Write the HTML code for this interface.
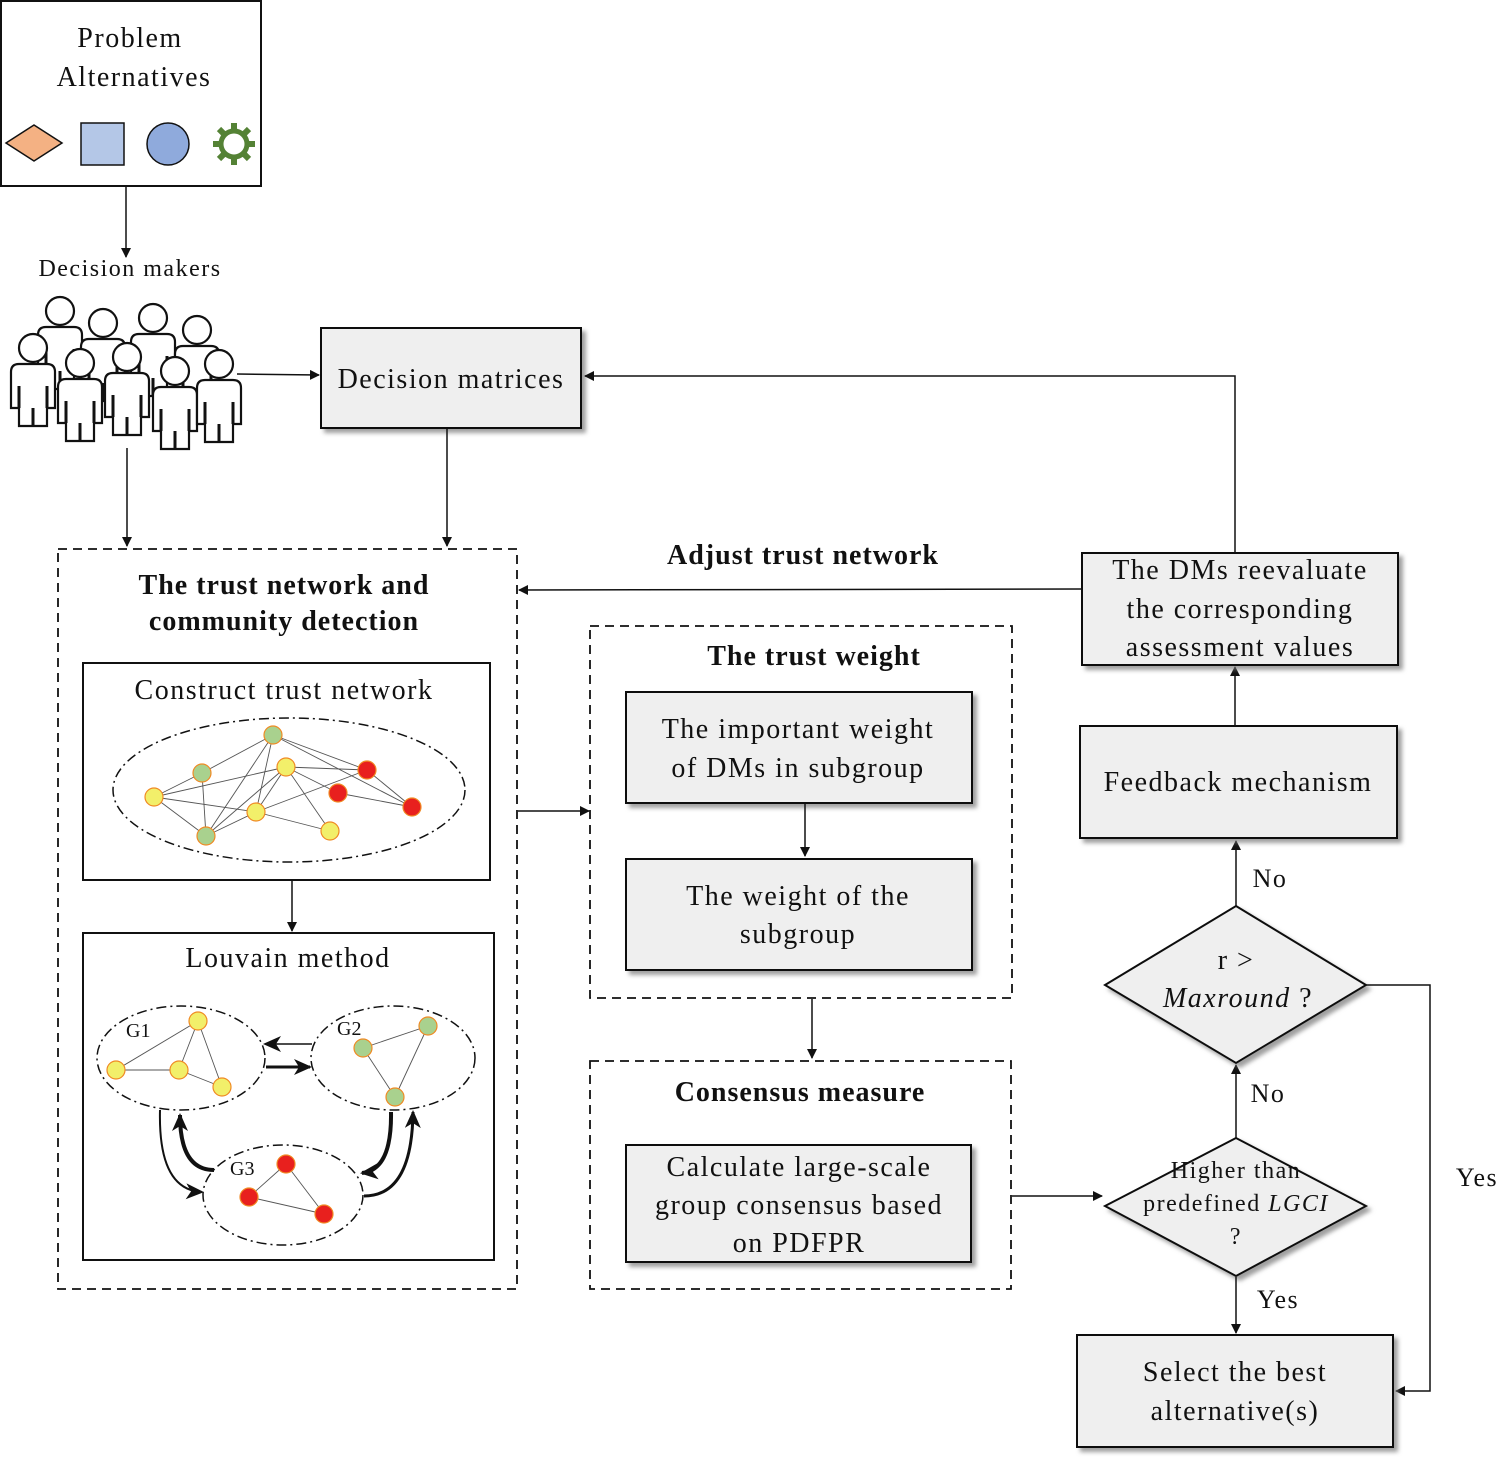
<!DOCTYPE html>
<html><head><meta charset="utf-8"><style>
html,body{margin:0;padding:0;background:#fff}
svg{display:block}
text{font-family:"Liberation Serif",serif;fill:#111;letter-spacing:1.5px}
text[font-weight="bold"]{letter-spacing:1px}
</style></head><body>
<svg width="1500" height="1464" viewBox="0 0 1500 1464" xmlns="http://www.w3.org/2000/svg">
<defs>
<marker id="a" markerWidth="10" markerHeight="10" refX="9" refY="5" orient="auto" markerUnits="userSpaceOnUse"><path d="M0,0 L10,5 L0,10 z" fill="#111"/></marker>
<marker id="b" markerWidth="18" markerHeight="16" refX="16" refY="8" orient="auto" markerUnits="userSpaceOnUse"><path d="M0,0 L18,8 L0,16 L5,8 z" fill="#111"/></marker>
<filter id="sh" x="-5%" y="-5%" width="115%" height="120%"><feDropShadow dx="4" dy="4" stdDeviation="2" flood-color="#777" flood-opacity="0.7"/></filter>
<symbol id="p" viewBox="-30 -16 60 100" width="60" height="112">
<path d="M-22,26 Q-22,18 -14,18 L14,18 Q22,18 22,26 L22,62 L14,62 L14,80 L-14,80 L-14,62 L-22,62 Z" fill="#fff" stroke="#111" stroke-width="2.2"/>
<line x1="-14" y1="40" x2="-14" y2="62" stroke="#111" stroke-width="3"/>
<line x1="14" y1="40" x2="14" y2="62" stroke="#111" stroke-width="3"/>
<line x1="0" y1="62" x2="0" y2="80" stroke="#111" stroke-width="3"/>
<circle cx="0" cy="2" r="14" fill="#fff" stroke="#111" stroke-width="2.2"/>
</symbol>
</defs>

<rect x="1" y="1" width="260" height="185" fill="#fff" stroke="#111" stroke-width="2"/>
<text x="130" y="47" font-size="28" text-anchor="middle">Problem</text>
<text x="134" y="86" font-size="28" text-anchor="middle">Alternatives</text>
<polygon points="6,143 34,125 62,143 34,161" fill="#f4b183" stroke="#111" stroke-width="1.5"/>
<rect x="81" y="123" width="43" height="42" fill="#b4c7e7" stroke="#111" stroke-width="1.5"/>
<circle cx="168" cy="144" r="21" fill="#8faadc" stroke="#111" stroke-width="1.5"/>
<g transform="translate(234,144)" fill="none" stroke="#548235" stroke-width="5">
<circle r="13"/>
<g stroke-width="6"><line x1="0" y1="-14" x2="0" y2="-21"/><line x1="0" y1="14" x2="0" y2="21"/><line x1="-14" y1="0" x2="-21" y2="0"/><line x1="14" y1="0" x2="21" y2="0"/><line x1="10" y1="10" x2="15" y2="15"/><line x1="-10" y1="10" x2="-15" y2="15"/><line x1="10" y1="-10" x2="15" y2="-15"/><line x1="-10" y1="-10" x2="-15" y2="-15"/></g>
</g>
<line x1="126" y1="187" x2="126" y2="257" stroke="#111" stroke-width="1.5" marker-end="url(#a)"/>
<text x="130" y="276" font-size="24" text-anchor="middle">Decision makers</text>

<use href="#p" x="30" y="287"/>
<use href="#p" x="73" y="299"/>
<use href="#p" x="123" y="294"/>
<use href="#p" x="167" y="306"/>
<use href="#p" x="3" y="324"/>
<use href="#p" x="50" y="339"/>
<use href="#p" x="97" y="333"/>
<use href="#p" x="145" y="347"/>
<use href="#p" x="189" y="340"/>
<line x1="237" y1="374" x2="319" y2="375" stroke="#111" stroke-width="1.5" marker-end="url(#a)"/>
<line x1="127" y1="448" x2="127" y2="546" stroke="#111" stroke-width="1.5" marker-end="url(#a)"/>

<rect x="321" y="328" width="260" height="100" fill="#efefef" stroke="#111" stroke-width="2" filter="url(#sh)"/>
<text x="451" y="388" font-size="28" text-anchor="middle">Decision matrices</text>
<line x1="447" y1="429" x2="447" y2="546" stroke="#111" stroke-width="1.5" marker-end="url(#a)"/>

<rect x="58" y="549" width="459" height="740" fill="none" stroke="#111" stroke-width="1.8" stroke-dasharray="9,6"/>
<text x="284" y="594" font-size="28" font-weight="bold" text-anchor="middle">The trust network and</text>
<text x="284" y="630" font-size="28" font-weight="bold" text-anchor="middle">community detection</text>
<rect x="83" y="663" width="407" height="217" fill="#fff" stroke="#111" stroke-width="2"/>
<text x="284" y="699" font-size="28" text-anchor="middle">Construct trust network</text>
<ellipse cx="289" cy="790" rx="176" ry="72" fill="none" stroke="#111" stroke-width="1.5" stroke-dasharray="10,4,2,4"/>
<g stroke="#555" stroke-width="0.9">
<line x1="273" y1="735" x2="202" y2="773"/><line x1="273" y1="735" x2="206" y2="836"/><line x1="273" y1="735" x2="256" y2="812"/><line x1="273" y1="735" x2="367" y2="770"/><line x1="273" y1="735" x2="412" y2="807"/>
<line x1="202" y1="773" x2="154" y2="797"/><line x1="202" y1="773" x2="206" y2="836"/>
<line x1="286" y1="767" x2="154" y2="797"/><line x1="286" y1="767" x2="367" y2="770"/><line x1="286" y1="767" x2="338" y2="793"/><line x1="286" y1="767" x2="330" y2="831"/><line x1="286" y1="767" x2="206" y2="836"/><line x1="286" y1="767" x2="256" y2="812"/>
<line x1="154" y1="797" x2="256" y2="812"/><line x1="154" y1="797" x2="206" y2="836"/>
<line x1="256" y1="812" x2="206" y2="836"/><line x1="256" y1="812" x2="330" y2="831"/><line x1="256" y1="812" x2="367" y2="770"/>
<line x1="367" y1="770" x2="412" y2="807"/><line x1="338" y1="793" x2="412" y2="807"/>
</g>
<g stroke="#f08a24" stroke-width="1.2">
<circle cx="273" cy="735" r="9" fill="#a9d18e"/><circle cx="202" cy="773" r="9" fill="#a9d18e"/><circle cx="206" cy="836" r="9" fill="#a9d18e"/>
<circle cx="286" cy="767" r="9" fill="#f2ef6a"/><circle cx="154" cy="797" r="9" fill="#f2ef6a"/><circle cx="256" cy="812" r="9" fill="#f2ef6a"/><circle cx="330" cy="831" r="9" fill="#f2ef6a"/>
<circle cx="367" cy="770" r="9" fill="#e8201e"/><circle cx="338" cy="793" r="9" fill="#e8201e"/><circle cx="412" cy="807" r="9" fill="#e8201e"/>
</g>
<line x1="292" y1="881" x2="292" y2="931" stroke="#111" stroke-width="1.5" marker-end="url(#a)"/>

<rect x="83" y="933" width="411" height="327" fill="#fff" stroke="#111" stroke-width="2"/>
<text x="288" y="967" font-size="28" text-anchor="middle">Louvain method</text>
<g fill="none" stroke="#111" stroke-width="1.5" stroke-dasharray="10,4,2,4">
<ellipse cx="181" cy="1058" rx="84" ry="52"/><ellipse cx="393" cy="1058" rx="82" ry="52"/><ellipse cx="283" cy="1195" rx="80" ry="50"/>
</g>
<text x="126" y="1037" font-size="20" style="letter-spacing:0">G1</text><text x="337" y="1035" font-size="20" style="letter-spacing:0">G2</text><text x="230" y="1175" font-size="20" style="letter-spacing:0">G3</text>
<g stroke="#555" stroke-width="0.9">
<line x1="198" y1="1021" x2="116" y2="1070"/><line x1="198" y1="1021" x2="179" y2="1070"/><line x1="198" y1="1021" x2="222" y2="1087"/><line x1="116" y1="1070" x2="179" y2="1070"/><line x1="179" y1="1070" x2="222" y2="1087"/>
<line x1="428" y1="1026" x2="363" y2="1048"/><line x1="428" y1="1026" x2="395" y2="1097"/><line x1="363" y1="1048" x2="395" y2="1097"/>
<line x1="286" y1="1164" x2="249" y2="1197"/><line x1="286" y1="1164" x2="324" y2="1214"/><line x1="249" y1="1197" x2="324" y2="1214"/>
</g>
<g stroke="#f08a24" stroke-width="1.2">
<circle cx="198" cy="1021" r="9" fill="#f2ef6a"/><circle cx="116" cy="1070" r="9" fill="#f2ef6a"/><circle cx="179" cy="1070" r="9" fill="#f2ef6a"/><circle cx="222" cy="1087" r="9" fill="#f2ef6a"/>
<circle cx="428" cy="1026" r="9" fill="#a9d18e"/><circle cx="363" cy="1048" r="9" fill="#a9d18e"/><circle cx="395" cy="1097" r="9" fill="#a9d18e"/>
<circle cx="286" cy="1164" r="9" fill="#e8201e"/><circle cx="249" cy="1197" r="9" fill="#e8201e"/><circle cx="324" cy="1214" r="9" fill="#e8201e"/>
</g>
<g fill="none" stroke="#111">
<line x1="312" y1="1044" x2="265" y2="1044" stroke-width="1.5" marker-end="url(#b)"/>
<line x1="266" y1="1067" x2="310" y2="1067" stroke-width="3" marker-end="url(#b)"/>
<path d="M160,1110 Q158,1190 202,1192" stroke-width="2" marker-end="url(#b)"/>
<path d="M214,1170 Q180,1170 180,1115" stroke-width="4" marker-end="url(#b)"/>
<path d="M391,1112 Q392,1170 362,1173" stroke-width="4" marker-end="url(#b)"/>
<path d="M364,1196 Q412,1196 413,1112" stroke-width="3" marker-end="url(#b)"/>
</g>

<line x1="518" y1="811" x2="589" y2="811" stroke="#111" stroke-width="1.5" marker-end="url(#a)"/>

<rect x="590" y="626" width="422" height="372" fill="none" stroke="#111" stroke-width="1.8" stroke-dasharray="9,6"/>
<text x="814" y="665" font-size="28" font-weight="bold" text-anchor="middle">The trust weight</text>
<rect x="626" y="692" width="346" height="111" fill="#efefef" stroke="#111" stroke-width="2" filter="url(#sh)"/>
<text x="798" y="738" font-size="28" text-anchor="middle">The important weight</text>
<text x="798" y="777" font-size="28" text-anchor="middle">of DMs in subgroup</text>
<line x1="805" y1="804" x2="805" y2="856" stroke="#111" stroke-width="1.5" marker-end="url(#a)"/>
<rect x="626" y="859" width="346" height="111" fill="#efefef" stroke="#111" stroke-width="2" filter="url(#sh)"/>
<text x="798" y="905" font-size="28" text-anchor="middle">The weight of the</text>
<text x="798" y="943" font-size="28" text-anchor="middle">subgroup</text>
<line x1="812" y1="999" x2="812" y2="1058" stroke="#111" stroke-width="1.5" marker-end="url(#a)"/>

<rect x="590" y="1061" width="421" height="228" fill="none" stroke="#111" stroke-width="1.8" stroke-dasharray="9,6"/>
<text x="800" y="1101" font-size="28" font-weight="bold" text-anchor="middle">Consensus measure</text>
<rect x="626" y="1145" width="345" height="117" fill="#efefef" stroke="#111" stroke-width="2" filter="url(#sh)"/>
<text x="799" y="1176" font-size="28" text-anchor="middle">Calculate large-scale</text>
<text x="799" y="1214" font-size="28" text-anchor="middle">group consensus based</text>
<text x="799" y="1252" font-size="28" text-anchor="middle">on PDFPR</text>
<line x1="1012" y1="1196" x2="1102" y2="1196" stroke="#111" stroke-width="1.5" marker-end="url(#a)"/>

<polygon points="1236,1138 1366,1206 1236,1276 1105,1206" fill="#efefef" stroke="#111" stroke-width="2" filter="url(#sh)"/>
<text x="1236" y="1178" font-size="24" text-anchor="middle">Higher than</text>
<text x="1236" y="1211" font-size="24" text-anchor="middle">predefined <tspan font-style="italic">LGCI</tspan></text>
<text x="1236" y="1244" font-size="24" text-anchor="middle">?</text>
<line x1="1236" y1="1138" x2="1236" y2="1065" stroke="#111" stroke-width="1.5" marker-end="url(#a)"/>
<text x="1268" y="1102" font-size="26" text-anchor="middle">No</text>
<polygon points="1236,906 1366,985 1236,1063 1105,985" fill="#efefef" stroke="#111" stroke-width="2" filter="url(#sh)"/>
<text x="1236" y="969" font-size="28" text-anchor="middle">r &gt;</text>
<text x="1238" y="1007" font-size="28" text-anchor="middle"><tspan font-style="italic">Maxround</tspan> ?</text>
<line x1="1236" y1="906" x2="1236" y2="841" stroke="#111" stroke-width="1.5" marker-end="url(#a)"/>
<text x="1270" y="887" font-size="26" text-anchor="middle">No</text>
<rect x="1080" y="726" width="317" height="112" fill="#efefef" stroke="#111" stroke-width="2" filter="url(#sh)"/>
<text x="1238" y="791" font-size="28" text-anchor="middle">Feedback mechanism</text>
<line x1="1235" y1="726" x2="1235" y2="667" stroke="#111" stroke-width="1.5" marker-end="url(#a)"/>
<rect x="1082" y="553" width="316" height="112" fill="#efefef" stroke="#111" stroke-width="2" filter="url(#sh)"/>
<text x="1240" y="579" font-size="28" text-anchor="middle">The DMs reevaluate</text>
<text x="1240" y="618" font-size="28" text-anchor="middle">the corresponding</text>
<text x="1240" y="656" font-size="28" text-anchor="middle">assessment values</text>
<polyline points="1235,553 1235,376 585,376" fill="none" stroke="#111" stroke-width="1.5" marker-end="url(#a)"/>
<line x1="1082" y1="589" x2="519" y2="590" stroke="#111" stroke-width="1.5" marker-end="url(#a)"/>
<text x="803" y="564" font-size="28" font-weight="bold" text-anchor="middle">Adjust trust network</text>
<polyline points="1366,985 1430,985 1430,1391 1396,1391" fill="none" stroke="#111" stroke-width="1.5" marker-end="url(#a)"/>
<text x="1477" y="1186" font-size="26" text-anchor="middle">Yes</text>
<line x1="1236" y1="1277" x2="1236" y2="1333" stroke="#111" stroke-width="1.5" marker-end="url(#a)"/>
<text x="1278" y="1308" font-size="26" text-anchor="middle">Yes</text>
<rect x="1077" y="1335" width="316" height="112" fill="#efefef" stroke="#111" stroke-width="2" filter="url(#sh)"/>
<text x="1235" y="1381" font-size="28" text-anchor="middle">Select the best</text>
<text x="1235" y="1420" font-size="28" text-anchor="middle">alternative(s)</text>
</svg>
</body></html>
